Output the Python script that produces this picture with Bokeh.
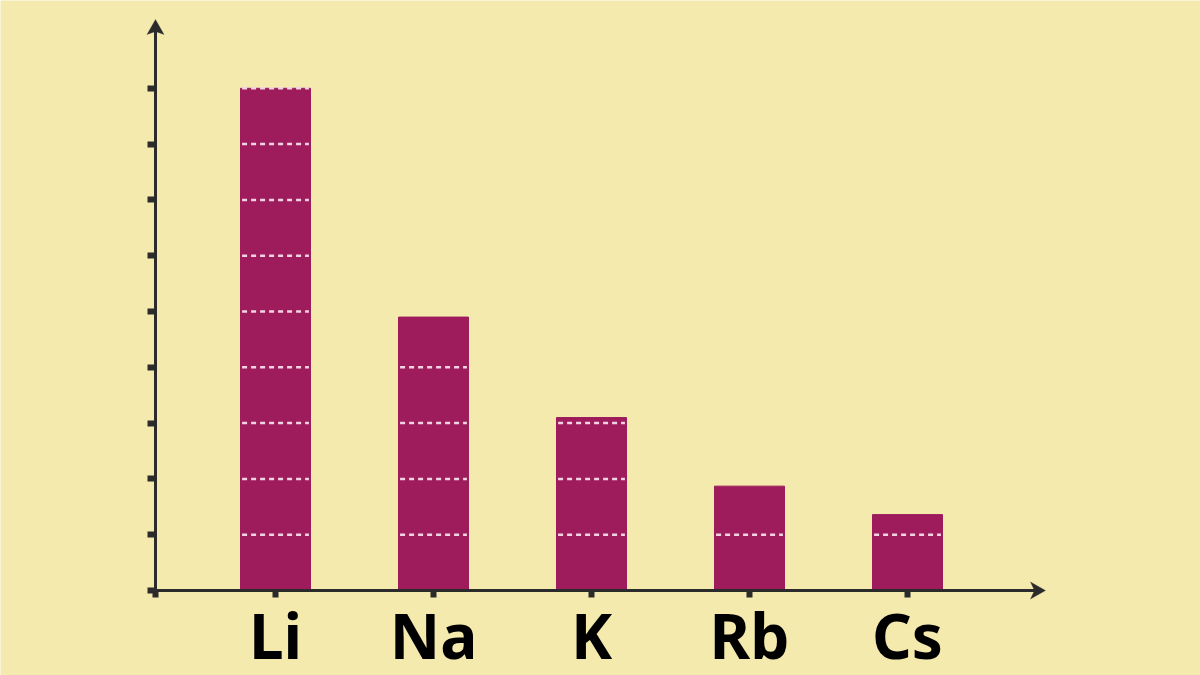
from bokeh.plotting import figure
from bokeh.models import FixedTicker, Range1d, PolyAnnotation
from bokeh.core.properties import value
from bokeh.embed import file_html
from bokeh.resources import INLINE

# ---- data ----
elements = ["Li", "Na", "K", "Rb", "Cs"]
positions = [1, 2, 3, 4, 5]
values = [9.0, 4.9, 3.1, 1.87, 1.36]
y_ticks = [0, 1, 2, 3, 4, 5, 6, 7, 8, 9]

# ---- styles / layout (pixels) ----
BG = "#F5EAAD"
BAR = "#9E1C5C"
AX = "#2B2B2B"
DASH = "#F2D3E2"
BAR_W = 0.443
PXU_X, PXU_Y = 158.0, 55.8          # pixels per data unit
AXIS_X_PX, AXIS_Y_PX = 155, 590      # where the two axes cross
TIP_X_PX, TIP_Y_PX = 1045, 19        # arrow tips
FRAME_L, FRAME_R, FRAME_T, FRAME_B = 0, 1200, 0, 675
LABEL_ANCHOR_PX = 634

XAX = 1 - (275 - AXIS_X_PX) / PXU_X          # data x of the y axis
XTIP = XAX + (TIP_X_PX - AXIS_X_PX) / PXU_X
YTIP = (AXIS_Y_PX - TIP_Y_PX) / PXU_Y
x_start = XAX - (AXIS_X_PX - FRAME_L) / PXU_X
x_end = XAX + (FRAME_R - AXIS_X_PX) / PXU_X
y_start = -(FRAME_B - AXIS_Y_PX) / PXU_Y
y_end = (AXIS_Y_PX - FRAME_T) / PXU_Y

p = figure(frame_width=FRAME_R - FRAME_L, frame_height=FRAME_B - FRAME_T,
           x_range=Range1d(x_start, x_end), y_range=Range1d(y_start, y_end),
           output_backend="svg", toolbar_location=None,
           min_border_left=0, min_border_right=0,
           min_border_top=0, min_border_bottom=0,
           background_fill_color=BG, border_fill_color=BG,
           outline_line_color=None)
p.grid.visible = False

p.vbar(x=positions, top=values, bottom=0, width=BAR_W,
       fill_color=BAR, line_color=BAR)

# dashed level lines inside bars
sx0, sx1, sy = [], [], []
for pos, v in zip(positions, values):
    for k in y_ticks[1:]:
        if k <= v + 1e-9:
            sx0.append(pos - BAR_W / 2 + 0.01)
            sx1.append(pos + BAR_W / 2 - 0.01)
            sy.append(k)
p.segment(x0=sx0, y0=sy, x1=sx1, y1=sy, line_color=DASH,
          line_width=2.5, line_dash="5 4")

# category labels
p.text(x=positions, y=[-(LABEL_ANCHOR_PX - AXIS_Y_PX) / PXU_Y] * len(positions),
       text=elements, text_align="center", text_baseline="alphabetic",
       text_font=value("Noto Sans"), text_font_style="bold",
       text_font_size="62px", text_color="#000000")

# x axis
xa = p.xaxis[0]
xa.fixed_location = 0
xa.bounds = (XAX, XTIP - 6 / PXU_X)
xa.ticker = FixedTicker(ticks=[XAX] + positions)
xa.major_label_overrides = {t: "" for t in [XAX] + positions}
xa.major_label_text_font_size = "1px"
xa.axis_line_color = AX
xa.axis_line_width = 3
xa.major_tick_line_color = AX
xa.major_tick_line_width = 6
xa.major_tick_out = 7
xa.major_tick_in = 0
xa.minor_tick_line_color = None
xa.major_label_standoff = 0

# y axis
ya = p.yaxis[0]
ya.fixed_location = XAX
ya.bounds = (0, YTIP - 6 / PXU_Y)
ya.ticker = FixedTicker(ticks=y_ticks)
ya.major_label_overrides = {t: "" for t in y_ticks}
ya.major_label_text_font_size = "1px"
ya.axis_line_color = AX
ya.axis_line_width = 3
ya.major_tick_line_color = AX
ya.major_tick_line_width = 6
ya.major_tick_out = 8
ya.major_tick_in = 0
ya.minor_tick_line_color = None
ya.major_label_standoff = 0

# arrow heads (vee shapes sized in pixels, at the axis ends)
def vee_up(xc, ytip):
    dx, dl, dn = 8.5 / PXU_X, 15 / PXU_Y, 12 / PXU_Y
    return ([xc, xc + dx, xc, xc - dx], [ytip, ytip - dl, ytip - dn, ytip - dl])

def vee_right(xtip, yc):
    dy, dl, dn = 8.5 / PXU_Y, 15 / PXU_X, 11 / PXU_X
    return ([xtip, xtip - dl, xtip - dn, xtip - dl], [yc, yc + dy, yc, yc - dy])

for xs, ys in (vee_up(XAX, YTIP), vee_right(XTIP, 0)):
    p.add_layout(PolyAnnotation(xs=xs, ys=ys, fill_color=AX, fill_alpha=1,
                                line_color=AX, line_width=1))

open("out.html", "w").write(file_html(p, INLINE))
